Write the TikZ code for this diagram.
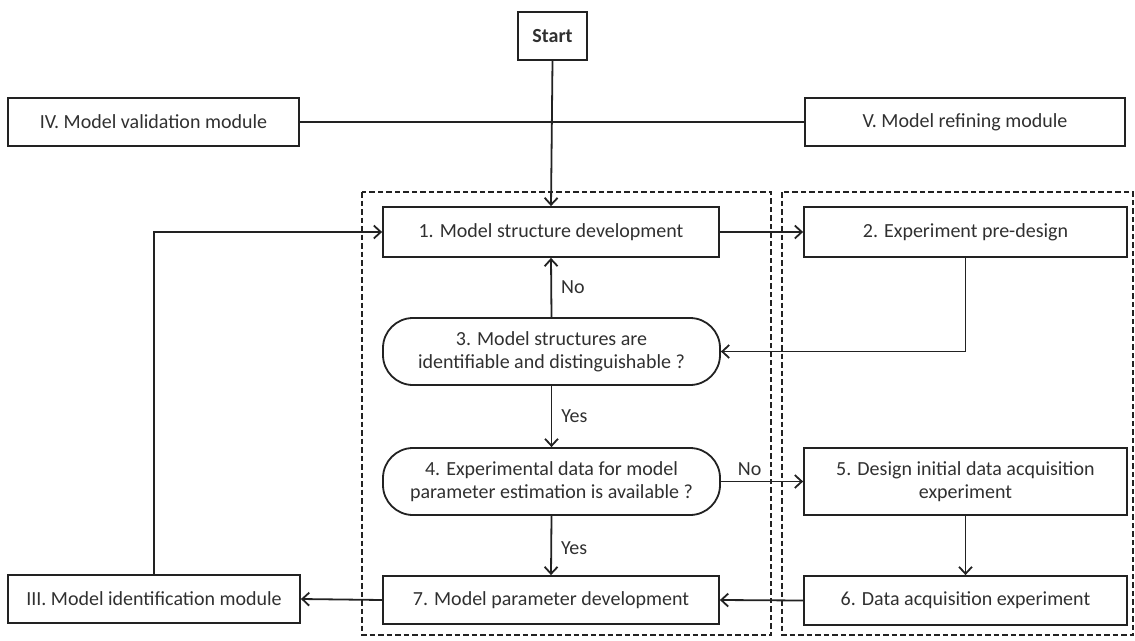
\documentclass[tikz,border=0pt]{standalone}
\usepackage{fontspec}
\setmainfont{Carlito}
\usetikzlibrary{arrows.meta}
\definecolor{txt}{HTML}{303030}
\definecolor{ln}{HTML}{222222}
\begin{document}
\begin{tikzpicture}[x=1pt,y=-1pt,
  every node/.style={font=\fontsize{20}{23}\selectfont, text=txt},
  blk/.style={draw=ln, line width=1.8pt, rectangle, inner sep=0pt, align=center},
  decision/.style={blk, rounded corners=30pt},
  frame/.style={draw=ln, line width=1.8pt, dash pattern=on 5.5pt off 3pt},
  link/.style={draw=ln, line width=1.8pt},
  arr/.style={link, -{Straight Barb[length=7pt,width=13pt,line width=1.8pt]}},
  lbl/.style={inner sep=0pt}]
\useasboundingbox (0,0) rectangle (1135,640);

% dashed module frames
\draw[frame] (362,192) rectangle (771,635);
\draw[frame] (782,192) rectangle (1133,635);

% blocks
\node[blk, minimum width=69pt, minimum height=48pt, font=\fontsize{20}{23}\selectfont\bfseries] (start) at (552.5,36) {Start};
\node[blk, minimum width=291pt, minimum height=48pt] (iv) at (153.5,122) {IV. Model validation module};
\node[blk, minimum width=320pt, minimum height=48pt] (v) at (965,122) {V. Model refining module};
\node[blk, minimum width=336pt, minimum height=50pt] (b1) at (551,232) {1. Model structure development};
\node[blk, minimum width=323pt, minimum height=50pt] (b2) at (965.5,232) {2. Experiment pre-design};
\node[decision, minimum width=337pt, minimum height=67pt] (b3) at (551.5,351.5) {3. Model structures are\\identifiable and distinguishable ?};
\node[decision, minimum width=337pt, minimum height=67pt] (b4) at (551.5,481.5) {4. Experimental data for model\\parameter estimation is available ?};
\node[blk, minimum width=323pt, minimum height=67pt] (b5) at (965.5,481.5) {5. Design initial data acquisition\\experiment};
\node[blk, minimum width=323pt, minimum height=49pt] (b6) at (965.5,600.5) {6. Data acquisition experiment};
\node[blk, minimum width=336pt, minimum height=48pt] (b7) at (551,600) {7. Model parameter development};
\node[blk, minimum width=292pt, minimum height=48pt] (iii) at (154,599) {III. Model identification module};

% connectors
\draw[link] (iv.east) -- (v.west);
\draw[arr] (start.south) -- (b1.north);
\draw[arr] (iii.north) |- (b1.west);
\draw[arr] (b1.east) -- (b2.west);
\draw[arr] (b2.south) |- (b3.east);
\draw[arr] (b3.north) -- node[lbl, right=9pt, pos=0.5] {No} (b1.south);
\draw[arr] (b3.south) -- node[lbl, right=9pt, pos=0.5] {Yes} (b4.north);
\draw[arr] (b4.east) -- node[lbl, above=5pt, pos=0.35] {No} (b4.east -| b5.west);
\draw[arr] (b4.south) -- node[lbl, right=9pt, pos=0.55] {Yes} (b7.north);
\draw[arr] (b5.south) -- (b6.north);
\draw[arr] (b6.west) -- (b7.east);
\draw[arr] (b7.west) -- (iii.east);
\end{tikzpicture}
\end{document}
